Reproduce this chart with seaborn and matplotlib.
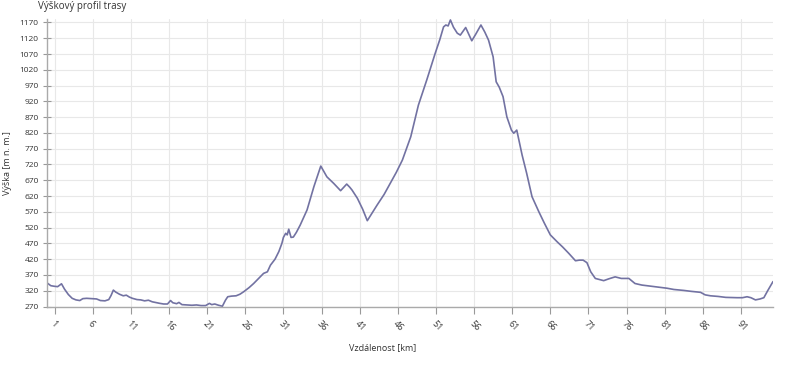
import matplotlib
matplotlib.use("Agg")
import matplotlib.pyplot as plt
import seaborn as sns
import pandas as pd

distance_km = [0.0, 0.5, 1.0, 1.4, 1.9, 2.3, 2.8, 3.3, 3.8, 4.3, 4.7, 5.2, 5.8, 6.5, 7.0, 7.6,
               8.1, 8.4, 8.7, 9.0, 9.5, 10.0, 10.4, 10.8, 11.2, 11.8, 12.3, 12.8, 13.3, 13.8,
               14.2, 14.8, 15.3, 15.8, 16.2, 16.5, 17.0, 17.3, 17.7, 18.3, 19.0, 19.6, 20.2,
               20.8, 21.3, 21.6, 22.0, 22.5, 23.0, 23.4, 23.7, 24.2, 24.8, 25.3, 25.8, 26.5,
               27.1, 27.8, 28.4, 28.9, 29.3, 29.9, 30.4, 30.8, 31.0, 31.3, 31.5, 31.7, 32.0,
               32.3, 32.7, 33.2, 34.1, 35.0, 35.9, 36.3, 36.7, 37.6, 38.5, 39.3, 39.7, 40.0,
               40.7, 41.4, 42.0, 42.6, 43.3, 44.2, 45.0, 45.8, 46.6, 47.7, 48.7, 49.8, 50.9,
               51.5, 52.0, 52.3, 52.6, 52.9, 53.3, 53.8, 54.2, 54.9, 55.3, 55.7, 56.2, 56.9,
               57.4, 57.9, 58.5, 58.9, 59.3, 59.8, 60.3, 60.9, 61.2, 61.6, 62.3, 62.9, 63.6,
               64.5, 65.2, 66.0, 66.9, 67.6, 68.4, 69.3, 69.8, 70.3, 70.8, 71.3, 71.9, 72.5,
               73.0, 73.7, 74.5, 75.3, 76.3, 77.1, 78.0, 79.0, 80.4, 81.3, 82.2, 83.5, 84.5,
               85.7, 86.3, 87.0, 88.0, 89.0, 90.5, 91.2, 91.8, 92.3, 92.9, 93.5, 94.0, 94.5, 95.2]
elevation_m = [345, 336, 334, 333, 342, 325, 308, 296, 291, 289, 295, 296, 295, 294, 289, 288,
               292, 305, 322, 316, 309, 304, 306, 300, 296, 292, 291, 288, 290, 285,
               283, 280, 278, 278, 289, 282, 279, 283, 276, 275, 274, 275, 273,
               273, 280, 276, 278, 274, 271, 290, 301, 303, 304, 309, 317, 330,
               343, 360, 375, 380, 401, 420, 444, 470, 489, 502, 497, 515, 489,
               490, 505, 528, 576, 650, 715, 698, 681, 660, 637, 658, 648, 639,
               613, 578, 542, 565, 592, 625, 660, 695, 734, 808, 908, 988, 1072,
               1115, 1156, 1162, 1159, 1178, 1155, 1136, 1130, 1154, 1133, 1112, 1132, 1162,
               1140, 1114, 1061, 982, 965, 935, 871, 829, 819, 829, 750, 692, 618,
               570, 535, 497, 475, 459, 439, 415, 417, 417, 409, 380, 359, 355,
               352, 358, 364, 359, 359, 343, 338, 335, 331, 328, 324, 321, 318,
               315, 307, 304, 302, 299, 298, 298, 301, 298, 291, 294, 298, 320, 349]

x_ticks = list(range(1, 92, 5))
y_ticks = list(range(270, 1171, 50))

title_text = "Výškový profil trasy"
x_label = "Vzdálenost [km]"
y_label = "Výška [m n. m.]"

df = pd.DataFrame({"km": distance_km, "elev": elevation_m})

sns.set_theme(style="white")
plt.rcParams["font.family"] = ["Open Sans", "DejaVu Sans"]

fig = plt.figure(figsize=(8, 3.67), dpi=100)
ax = fig.add_axes([47 / 800, 1 - 307 / 367, 726 / 800, 288 / 367])

sns.lineplot(data=df, x="km", y="elev", ax=ax, color="#7272a2", linewidth=1.2)

ax.set_xlim(0, 95.2)
ax.set_ylim(268.5, 1181)
ax.set_xticks(x_ticks)
ax.set_yticks(y_ticks)
ax.grid(True, color="#e8e8e8", linewidth=0.8)
ax.set_axisbelow(True)

for s in ["top", "right"]:
    ax.spines[s].set_visible(False)
for s in ["left", "bottom"]:
    ax.spines[s].set_color("#aaaaaa")
    ax.spines[s].set_linewidth(1.0)

ax.tick_params(axis="y", direction="inout", length=6, width=0.8, color="#999999",
               labelsize=6, labelcolor="#333333", pad=3, left=True)
ax.tick_params(axis="x", direction="out", length=5, width=0.8, color="#999999",
               labelsize=6.5, labelcolor="#333333", pad=4, bottom=True)
for lab in ax.get_xticklabels():
    lab.set_rotation(-45)
    lab.set_ha("left")
    lab.set_va("top")
    lab.set_rotation_mode("anchor")

ax.set_xlabel(x_label, fontsize=6.5, color="#333333")
ax.set_ylabel(y_label, fontsize=6.5, color="#333333")
ax.xaxis.set_label_coords((383 - 47) / 726, -0.125)
ax.yaxis.set_label_coords(-(47 - 12) / 726, 0.5)

fig.text(38 / 800, 1 - 7 / 367, title_text, fontsize=7, color="#333333",
         ha="left", va="center")

fig.savefig("out.png", dpi=100)
